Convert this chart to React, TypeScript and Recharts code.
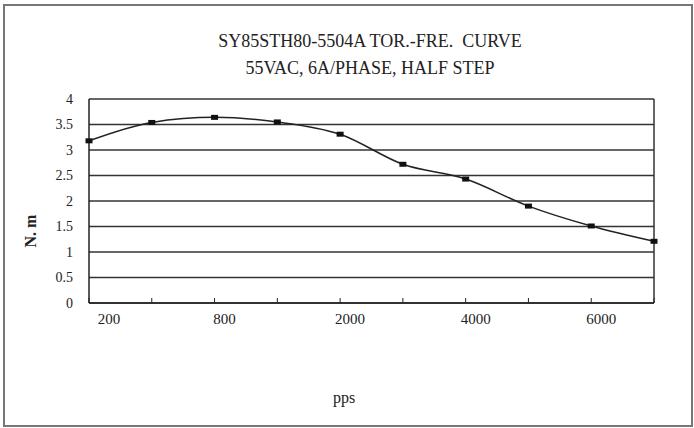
// App.tsx

import React from 'react';
import { LineChart, Line, XAxis, YAxis, CartesianGrid, ReferenceLine } from 'recharts';

const ppsLabels = ['200', '400', '800', '1200', '2000', '3000', '4000', '5000', '6000', '7000'];
const torque = [3.18, 3.54, 3.64, 3.55, 3.31, 2.72, 2.43, 1.9, 1.51, 1.21];
const yTicks = [0, 0.5, 1, 1.5, 2, 2.5, 3, 3.5, 4];

const titleLine1 = 'SY85STH80-5504A TOR.-FRE.  CURVE';
const titleLine2 = '55VAC, 6A/PHASE, HALF STEP';

const data = ppsLabels.map((pps, i) => ({ pps, torque: torque[i] }));

const serif = "'Liberation Serif', 'DejaVu Serif', serif";

const SquareDot = (props: any) => {
  const { cx, cy } = props;
  if (cx == null || cy == null) return null;
  return <rect x={cx - 3.5} y={cy - 2.5} width={7} height={5} fill="#111" />;
};

const XTick = (props: any) => {
  const { x, y, payload, index } = props;
  if (index % 2 === 1) return null;
  const dx = index === 0 ? 20 : 10;
  return (
    <text x={x + dx} y={y} textAnchor="middle" dominantBaseline="hanging" style={{ fontFamily: serif, fontSize: 15, fill: '#222' }}>
      {payload.value}
    </text>
  );
};

const YTick = (props: any) => {
  const { x, y, payload } = props;
  return (
    <text x={x} y={y} textAnchor="end" dominantBaseline="central" style={{ fontFamily: serif, fontSize: 14, fill: '#222' }}>
      {payload.value}
    </text>
  );
};

const App = () => {
  return (
    <div style={{ position: 'absolute', left: 0, top: 0, width: 694, height: 428, background: '#fff' }}>
      <div
        style={{
          position: 'absolute',
          left: 3,
          top: 4,
          width: 686,
          height: 419,
          border: '2px solid #777',
        }}
      />
      <div
        style={{
          position: 'absolute',
          left: 0,
          width: 740,
          top: 28,
          textAlign: 'center',
          fontFamily: serif,
          fontSize: 18,
          color: '#222',
          whiteSpace: 'pre',
          lineHeight: '27px',
        }}
      >
        <div>{titleLine1}</div>
        <div>{titleLine2}</div>
      </div>
      <div
        style={{
          position: 'absolute',
          left: 31,
          top: 231,
          transform: 'translate(-50%, -50%) rotate(-90deg)',
          fontFamily: serif,
          fontSize: 16,
          fontWeight: 'bold',
          color: '#222',
          whiteSpace: 'pre',
        }}
      >
        N. m
      </div>
      <div
        style={{
          position: 'absolute',
          left: 344,
          top: 398,
          transform: 'translate(-50%, -50%)',
          fontFamily: serif,
          fontSize: 16,
          color: '#222',
        }}
      >
        pps
      </div>
      <div style={{ position: 'absolute', left: 0, top: 0 }}>
        <LineChart
          width={694}
          height={428}
          data={data}
          margin={{ top: 99, right: 40, left: 0, bottom: 95 }}
        >
          <CartesianGrid vertical={false} stroke="#333" strokeWidth={1.5} />
          <XAxis
            dataKey="pps"
            interval={0}
            height={30}
            tickSize={-5}
            tickMargin={16}
            tick={<XTick />}
            axisLine={{ stroke: '#222', strokeWidth: 1.5 }}
            tickLine={{ stroke: '#222' }}
          />
          <YAxis
            width={89}
            domain={[0, 4]}
            ticks={yTicks}
            tickLine={false}
            tickMargin={10}
            axisLine={{ stroke: '#222', strokeWidth: 1.5 }}
            tick={<YTick />}
          />
          <ReferenceLine x="7000" stroke="#333" strokeWidth={1.5} />
          <Line
            type="monotone"
            dataKey="torque"
            stroke="#222"
            strokeWidth={1.5}
            dot={<SquareDot />}
            activeDot={false}
            isAnimationActive={false}
          />
        </LineChart>
      </div>
    </div>
  );
};

export default App;
